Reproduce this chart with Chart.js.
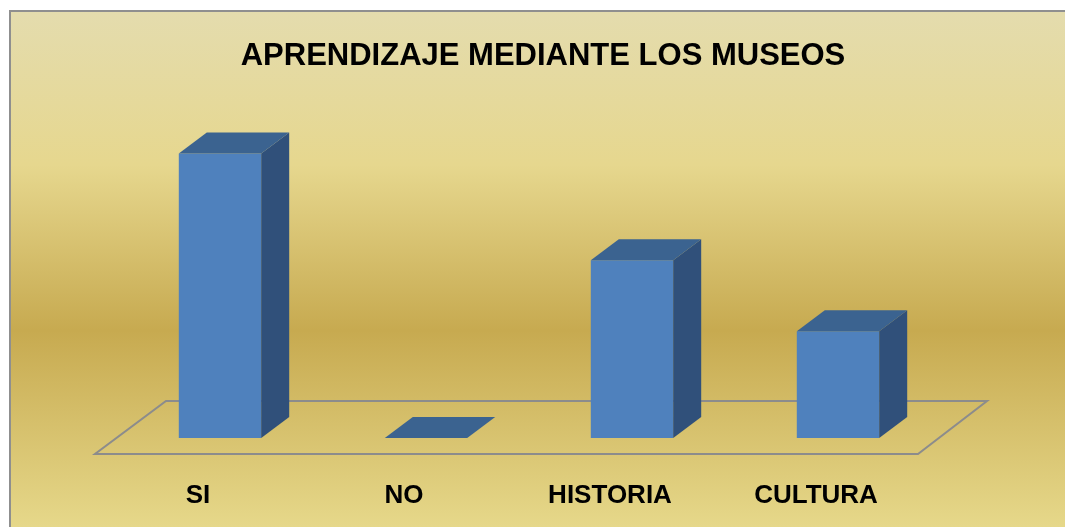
<!DOCTYPE html>
<html>
<head>
<meta charset="utf-8">
<script src="https://cdn.jsdelivr.net/npm/chart.js@4"></script>
<style>
  body { margin: 0; background: #fff; }
</style>
</head>
<body>
<canvas id="grafico" width="1065" height="527"></canvas>
<script>
// datos
const titulo = 'APRENDIZAJE MEDIANTE LOS MUSEOS'
const categorias = ['SI', 'NO', 'HISTORIA', 'CULTURA']
const valores = [8, 0, 5, 3]

const frente = '#4f81bd'
const techo = '#3b6390'
const lado = '#30507a'
const prof = { dx: 28, dy: -21 }

// fondo dorado + marco + piso + titulo
const fondo3d = {
  id: 'fondo3d',
  beforeDraw(chart) {
    const ctx = chart.ctx
    const g = ctx.createLinearGradient(0, 10, 0, 527)
    g.addColorStop(0, '#e4dcae')
    g.addColorStop(0.3, '#e6d78e')
    g.addColorStop(0.62, '#c7aa50')
    g.addColorStop(1, '#e6d88a')
    ctx.save()
    ctx.fillStyle = g
    ctx.fillRect(9, 10, chart.width - 9, chart.height - 10)
    ctx.strokeStyle = '#8f8f8f'
    ctx.lineWidth = 2
    ctx.beginPath()
    ctx.moveTo(10, chart.height)
    ctx.lineTo(10, 11)
    ctx.lineTo(chart.width, 11)
    ctx.stroke()
    ctx.restore()
  },
  beforeDatasetsDraw(chart) {
    const ctx = chart.ctx
    const a = chart.chartArea
    const yF = a.bottom + 16, yB = a.bottom - 37
    const xL = a.left - 22, xR = a.right - 23
    ctx.save()
    ctx.strokeStyle = '#8c8c8c'
    ctx.lineWidth = 2
    ctx.beginPath()
    ctx.moveTo(xL, yF)
    ctx.lineTo(xR, yF)
    ctx.lineTo(xR + 69, yB)
    ctx.lineTo(xL + 71, yB)
    ctx.closePath()
    ctx.stroke()
    ctx.restore()
  },
  afterDatasetsDraw(chart) {
    const ctx = chart.ctx
    const meta = chart.getDatasetMeta(0)
    ctx.save()
    meta.data.forEach(el => {
      const p = el.getProps(['x', 'y', 'base', 'width'], true)
      const l = p.x - p.width / 2, r = p.x + p.width / 2
      // lado
      ctx.fillStyle = lado
      ctx.beginPath()
      ctx.moveTo(r, p.y)
      ctx.lineTo(r + prof.dx, p.y + prof.dy)
      ctx.lineTo(r + prof.dx, p.base + prof.dy)
      ctx.lineTo(r, p.base)
      ctx.closePath()
      ctx.fill()
      // techo
      ctx.fillStyle = techo
      ctx.beginPath()
      ctx.moveTo(l, p.y)
      ctx.lineTo(r, p.y)
      ctx.lineTo(r + prof.dx, p.y + prof.dy)
      ctx.lineTo(l + prof.dx, p.y + prof.dy)
      ctx.closePath()
      ctx.fill()
    })
    ctx.restore()
  },
  afterDraw(chart) {
    const ctx = chart.ctx
    ctx.save()
    ctx.font = 'bold 31px "Liberation Sans"'
    ctx.fillStyle = '#000'
    ctx.textAlign = 'center'
    ctx.textBaseline = 'alphabetic'
    ctx.fillText(titulo, 543, 65)
    ctx.restore()
  }
}

new Chart(document.getElementById('grafico'), {
  type: 'bar',
  data: {
    labels: categorias,
    datasets: [{
      data: valores,
      backgroundColor: frente,
      borderWidth: 0,
      categoryPercentage: 1,
      barPercentage: 0.4
    }]
  },
  options: {
    responsive: false,
    animation: false,
    layout: { padding: { left: 117, right: 124, top: 118, bottom: 0 } },
    plugins: {
      legend: { display: false },
      tooltip: { enabled: false },
      title: { display: false }
    },
    scales: {
      y: { display: false, min: 0, max: 9 },
      x: {
        grid: { display: false },
        border: { display: false },
        afterFit(scale) { scale.height = 89 },
        ticks: {
          color: '#000',
          font: { family: 'Liberation Sans', size: 26, weight: 'bold' },
          padding: 34,
          labelOffset: -22,
          maxRotation: 0
        }
      }
    }
  },
  plugins: [fondo3d]
})
</script>
</body>
</html>
